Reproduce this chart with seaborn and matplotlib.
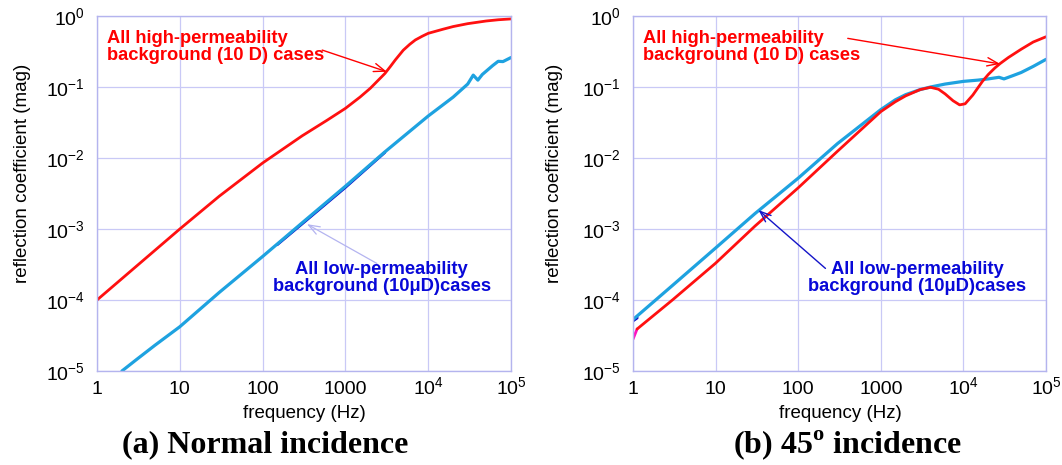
import matplotlib
matplotlib.use("Agg")
import matplotlib.pyplot as plt
import seaborn as sns
import pandas as pd

# ---------------- data ----------------
# (a) Normal incidence
freq_a_high = [1, 3, 10, 30, 100, 300, 600, 1000, 1500, 2000, 2500, 3000, 3500, 4000,
               5000, 6000, 7000, 8500, 1e4, 1.5e4, 2e4, 3e4, 5e4, 7e4, 1e5]
refl_a_high = [1.0e-4, 3.0e-4, 1.0e-3, 2.9e-3, 8.5e-3, 0.0205, 0.034, 0.05, 0.072, 0.096,
               0.125, 0.155, 0.195, 0.24, 0.33, 0.40, 0.46, 0.52, 0.57, 0.65, 0.71,
               0.78, 0.85, 0.885, 0.91]

freq_a_low = [2, 3, 5, 10, 30, 100, 300, 1000, 3000, 1e4, 2e4, 3e4, 3.5e4, 3.98e4,
              4.5e4, 6e4, 7e4, 8e4, 1e5]
refl_a_low = [1.0e-5, 1.45e-5, 2.3e-5, 4.2e-5, 1.28e-4, 4.1e-4, 1.22e-3, 4.0e-3, 1.22e-2,
              3.9e-2, 0.072, 0.11, 0.147, 0.125, 0.15, 0.20, 0.23, 0.228, 0.26]

freq_a_low2 = [150, 300, 1000, 3000]
refl_a_low2 = [6.0e-4, 1.18e-3, 3.85e-3, 1.2e-2]

# (b) 45 degree incidence
freq_b_high = [1.12, 3, 10, 30, 100, 300, 1000, 1500, 2000, 3000, 4000, 5000, 6000, 7500,
               9000, 1.05e4, 1.3e4, 1.7e4, 2e4, 2.4e4, 2.8e4, 3.5e4, 5e4, 7e4, 1e5]
refl_b_high = [3.9e-5, 1.0e-4, 3.3e-4, 1.1e-3, 3.8e-3, 1.25e-2, 0.045, 0.062, 0.075, 0.092,
               0.099, 0.093, 0.08, 0.064, 0.056, 0.058, 0.077, 0.12, 0.15, 0.185, 0.215,
               0.26, 0.34, 0.43, 0.51]

freq_b_high2 = [1, 1.12]
refl_b_high2 = [2.8e-5, 3.9e-5]

freq_b_low = [1, 3, 10, 30, 100, 300, 1000, 1500, 2000, 3000, 4000, 6000, 1e4, 1.5e4,
              2e4, 2.7e4, 3.1e4, 4e4, 5e4, 7e4, 1e5]
refl_b_low = [5.3e-5, 1.6e-4, 5.4e-4, 1.65e-3, 5.2e-3, 1.6e-2, 0.048, 0.066, 0.078, 0.092,
              0.1, 0.11, 0.12, 0.125, 0.13, 0.137, 0.13, 0.145, 0.16, 0.195, 0.245]

freq_b_low2 = [1, 1.12]
refl_b_low2 = [5.1e-5, 5.6e-5]

xtick_vals = [1, 10, 100, 1000, 1e4, 1e5]
xtick_labels = ["1", "10", "100", "1000", r"$\mathsf{10^{4}}$", r"$\mathsf{10^{5}}$"]
ytick_vals = [1e-5, 1e-4, 1e-3, 1e-2, 1e-1, 1]
ytick_labels = [r"$\mathsf{10^{-5}}$", r"$\mathsf{10^{-4}}$", r"$\mathsf{10^{-3}}$",
                r"$\mathsf{10^{-2}}$", r"$\mathsf{10^{-1}}$", r"$\mathsf{10^{0}}$"]

high_label = "All high-permeability\nbackground (10 D) cases"
low_label = "All low-permeability\nbackground (10\u03bcD)cases"
xlabel = "frequency (Hz)"
ylabel = "reflection coefficient (mag)"
title_a = "(a) Normal incidence"
title_b = r"(b) 45$^{\mathrm{o}}$ incidence"

# ---------------- style ----------------
sns.set_theme(style="white")
plt.rcParams["font.family"] = ["Liberation Sans", "DejaVu Sans"]
plt.rcParams["mathtext.fontset"] = "custom"
plt.rcParams["mathtext.rm"] = "Liberation Serif:bold"
plt.rcParams["mathtext.sf"] = "Liberation Sans"

RED = "#ff1010"
CYAN = "#1ea2e0"
NAVY = "#0a0ac8"
MAGENTA = "#ff10c0"
GRID = "#c9c9f6"
SPINE = "#b4b4ee"

fig = plt.figure(figsize=(10.62, 4.65), dpi=100)
fig.patch.set_facecolor("white")
axA = fig.add_axes([97 / 1062, 1 - 371 / 465, 414 / 1062, 355 / 465])
axB = fig.add_axes([633 / 1062, 1 - 371 / 465, 413 / 1062, 355 / 465])


def line(ax, f, v, color, lw):
    df = pd.DataFrame({"f": f, "v": v})
    sns.lineplot(data=df, x="f", y="v", ax=ax, color=color, linewidth=lw,
                 estimator=None, sort=False, legend=False)


line(axA, freq_a_low2, refl_a_low2, NAVY, 2.0)
line(axA, freq_a_low, refl_a_low, CYAN, 2.3)
line(axA, freq_a_high, refl_a_high, RED, 2.0)

line(axB, freq_b_low2, refl_b_low2, NAVY, 2.2)
line(axB, freq_b_low, refl_b_low, CYAN, 2.3)
line(axB, freq_b_high2, refl_b_high2, MAGENTA, 2.0)
line(axB, freq_b_high, refl_b_high, RED, 2.0)

for ax in (axA, axB):
    ax.set_xscale("log")
    ax.set_yscale("log")
    ax.set_xlim(1, 1e5)
    ax.set_ylim(1e-5, 1)
    ax.set_xticks(xtick_vals)
    ax.set_xticklabels(xtick_labels)
    ax.set_yticks(ytick_vals)
    ax.set_yticklabels(ytick_labels)
    ax.minorticks_off()
    ax.tick_params(axis="both", length=0, labelsize=14, colors="black")
    ax.tick_params(axis="x", pad=16.5)
    ax.tick_params(axis="y", pad=9)
    plt.setp(ax.get_xticklabels(), va="baseline")
    ax.grid(True, which="major", color=GRID, linewidth=0.9)
    ax.set_axisbelow(True)
    for s in ax.spines.values():
        s.set_color(SPINE)
        s.set_linewidth(1.0)
        s.set_visible(True)
    ax.set_facecolor("white")
    ax.set_xlabel(xlabel, fontsize=13.5, color="black")
    ax.set_ylabel(ylabel, fontsize=13.5, color="black")

axA.xaxis.set_label_coords(0.502, -0.097)
axB.xaxis.set_label_coords(0.503, -0.097)
axA.yaxis.set_label_coords(-0.16, 0.556)
axB.yaxis.set_label_coords(-0.17, 0.556)

txt_kw = dict(fontsize=13.2, fontweight="bold", linespacing=1.0)
arrow_len = dict(mutation_scale=10, shrinkA=0, shrinkB=0)

# panel (a) annotations
axA.text(0.025, 0.912, high_label, transform=axA.transAxes, ha="left", va="center",
         color="#ff0000", **txt_kw)
axA.annotate("", xy=(3170, 0.164), xycoords="data", xytext=(0.544, 0.904),
             textcoords="axes fraction",
             arrowprops=dict(arrowstyle="->,head_length=0.8,head_width=0.3",
                             color="#ff0000", lw=1.0, **arrow_len))
axA.text(0.688, 0.261, low_label, transform=axA.transAxes, ha="center", va="center",
         multialignment="center", color="#0808d8", **txt_kw)
axA.annotate("", xy=(344, 1.17e-3), xycoords="data", xytext=(0.676, 0.303),
             textcoords="axes fraction",
             arrowprops=dict(arrowstyle="->,head_length=0.8,head_width=0.3",
                             color="#b4b4f0", lw=0.9, **arrow_len))

# panel (b) annotations
axB.text(0.025, 0.912, high_label, transform=axB.transAxes, ha="left", va="center",
         color="#ff0000", **txt_kw)
axB.annotate("", xy=(2.79e4, 0.211), xycoords="data", xytext=(0.52, 0.937),
             textcoords="axes fraction",
             arrowprops=dict(arrowstyle="->,head_length=0.8,head_width=0.3",
                             color="#ff0000", lw=1.0, **arrow_len))
axB.text(0.688, 0.261, low_label, transform=axB.transAxes, ha="center", va="center",
         multialignment="center", color="#0808d8", **txt_kw)
axB.annotate("", xy=(33, 1.85e-3), xycoords="data", xytext=(0.466, 0.289),
             textcoords="axes fraction",
             arrowprops=dict(arrowstyle="->,head_length=0.8,head_width=0.3",
                             color="#1414c8", lw=1.0, **arrow_len))

# panel captions
fig.text(265.6 / 1062, 1 - 445 / 465, title_a, ha="center", va="center",
         fontfamily="Liberation Serif", fontweight="bold", fontsize=23, color="black")
fig.text(847.6 / 1062, 1 - 445 / 465, title_b, ha="center", va="center",
         fontfamily="Liberation Serif", fontweight="bold", fontsize=23, color="black")

fig.savefig("out.png", dpi=100, facecolor="white")
